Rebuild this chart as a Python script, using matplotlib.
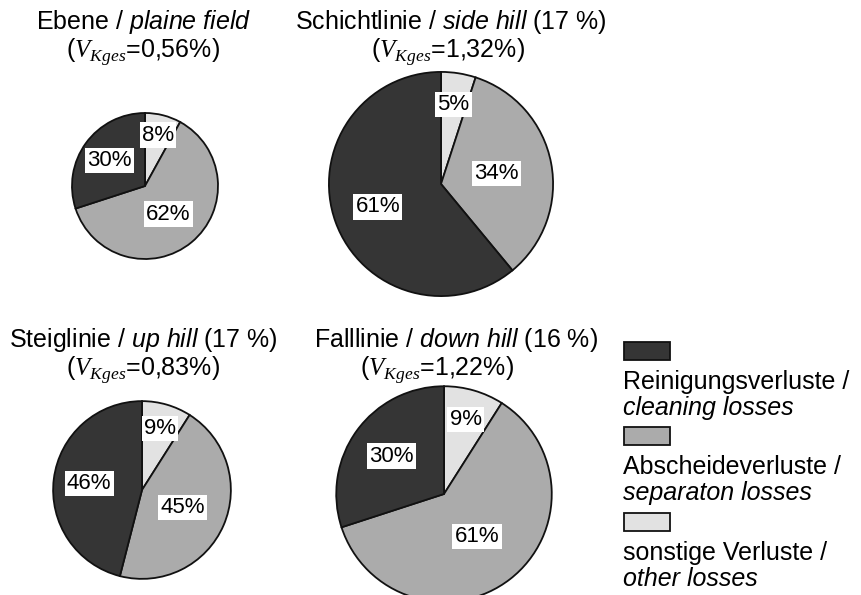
import numpy as np
import matplotlib
matplotlib.use("Agg")
import matplotlib.pyplot as plt
from matplotlib.patches import Rectangle

plt.rcParams['font.family'] = ['Liberation Sans', 'DejaVu Sans']
plt.rcParams['mathtext.fontset'] = 'custom'
plt.rcParams['mathtext.rm'] = 'Liberation Sans'
plt.rcParams['mathtext.it'] = 'Liberation Sans:italic'
plt.rcParams['mathtext.sf'] = 'Liberation Serif:italic'

# data
names_de = ["Ebene", "Schichtlinie", "Steiglinie", "Falllinie"]
names_en = ["plaine field", "side hill", "up hill", "down hill"]
slopes = ["", " (17 %)", " (17 %)", " (16 %)"]
v_total = [0.56, 1.32, 0.83, 1.22]          # V_Kges in %
v_total_txt = ["0,56", "1,32", "0,83", "1,22"]

# shares in order: sonstige, Abscheide, Reinigung (clockwise from top)
other = [8, 5, 9, 9]
separation = [62, 34, 45, 61]
cleaning = [30, 61, 46, 30]

cat_de = ["Reinigungsverluste /", "Abscheideverluste /", "sonstige Verluste /"]
cat_en = ["cleaning losses", "separaton losses", "other losses"]
colors = {"cleaning": "#353535", "separation": "#ababab", "other": "#e2e2e2"}

W, H = 861, 595
fig = plt.figure(figsize=(W / 100, H / 100), dpi=100)
ax = fig.add_axes([0, 0, 1, 1])

# pie placement (pixels from top-left), radius scale (area ~ total loss)
centers = [(145, 186), (441, 184), (142, 490), (444, 494)]
title1_x = [144, 451, 143, 456]
title2_x = [143, 448, 143, 437]
title_y = [22, 340]
k = 73 / np.sqrt(0.56)
lab_dist = [0.72, 0.5, 0.6]   # other, separation, cleaning

for i in range(4):
    cx, cy = centers[i]
    r = k * np.sqrt(v_total[i])
    vals = [other[i], separation[i], cleaning[i]]
    cols = [colors["other"], colors["separation"], colors["cleaning"]]
    wedges, _ = ax.pie(vals, colors=cols, startangle=90, counterclock=False,
                       center=(cx, H - cy), radius=r, frame=True,
                       wedgeprops=dict(edgecolor="#111111", linewidth=1.3))
    for j, (w, v) in enumerate(zip(wedges, vals)):
        ang = np.deg2rad((w.theta1 + w.theta2) / 2)
        d = lab_dist[j] * r
        ax.text(cx + d * np.cos(ang), H - cy + d * np.sin(ang), f"{v}%",
                ha="center", va="center", fontsize=16, color="black",
                bbox=dict(boxstyle="square,pad=0.1", fc="white", ec="none"))

    ty = title_y[0] if i < 2 else title_y[1]
    ax.text(title1_x[i], H - ty,
            names_de[i] + " / $" + names_en[i].replace(" ", r"\ ") + "$" + slopes[i],
            ha="center", va="center", fontsize=18)
    ax.text(title2_x[i], H - ty - 30,
            r"($\mathsf{V}_{\mathsf{Kges}}$=" + v_total_txt[i] + "%)",
            ha="center", va="center", fontsize=18)

# legend drawn as patch above two text lines
leg_cols = [colors["cleaning"], colors["separation"], colors["other"]]
patch_top = [342, 427, 513]
for j in range(3):
    y0 = patch_top[j]
    ax.add_patch(Rectangle((624, H - y0 - 18), 46, 18, fc=leg_cols[j],
                           ec="#111111", lw=1.3))
    ax.text(623, H - y0 - 40, cat_de[j], ha="left", va="center", fontsize=18)
    ax.text(623, H - y0 - 66, cat_en[j], ha="left", va="center", fontsize=18,
            style="italic")

ax.set_xlim(0, W)
ax.set_ylim(0, H)
ax.set_aspect("auto")
ax.axis("off")

fig.savefig("out.png", dpi=100, facecolor="white")
